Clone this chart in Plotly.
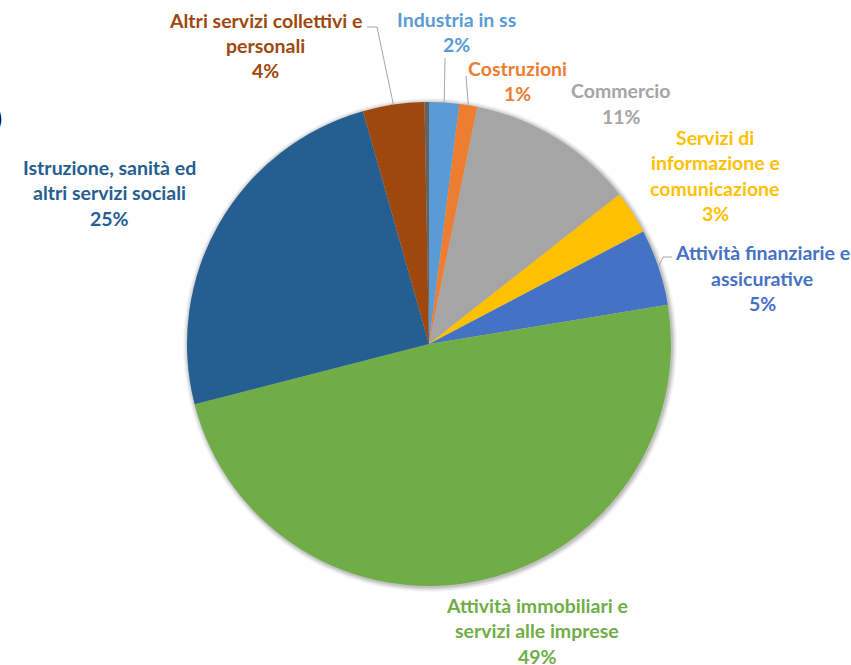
import math
import plotly.graph_objects as go

# Value added shares by sector (percent)
sectors = [
    "Industria in ss",
    "Costruzioni",
    "Commercio",
    "Servizi di informazione e comunicazione",
    "Attività finanziarie e assicurative",
    "Attività immobiliari e servizi alle imprese",
    "Istruzione, sanità ed altri servizi sociali",
    "Altri servizi collettivi e personali",
    "Agricoltura",
]
shares = [2.0, 1.2, 11.2, 2.9, 5.1, 48.6, 24.6, 4.1, 0.3]
colors = ["#5B9BD5", "#ED7D31", "#A5A5A5", "#FFC000", "#4472C4",
          "#70AD47", "#255E91", "#9E480E", "#636363"]

# Multi-line label text (name lines); percent line is added from the data
label_lines = [
    ["Industria in ss"],
    ["Costruzioni"],
    ["Commercio"],
    ["Servizi di", "informazione e", "comunicazione"],
    ["Attività finanziarie e", "assicurative"],
    ["Attività immobiliari e", "servizi alle imprese"],
    ["Istruzione, sanità ed", "altri servizi sociali"],
    ["Altri servizi collettivi e", "personali"],
    None,
]
# label block centre x and first-line y (pixels)
label_pos = [
    (457, 19), (517, 68), (621, 91), (715, 137), (762, 253),
    (537, 605), (110, 167), (265, 20), None,
]
# leader line: label-side anchor points (pixels), None when no leader
leaders = [
    [(445, 58)],
    [(466, 76)],
    None,
    None,
    [(672, 257), (663, 257)],
    None,
    None,
    [(367, 27), (377, 27)],
    None,
]

W, H = 851, 665
CX, CY, R = 429, 344, 242
LINE_H = 25.5
FONT = "Lato"
FONT_SIZE = 19.5


def px(x):
    return x / W


def py(y):
    return 1 - y / H


fig = go.Figure()
fig.add_trace(go.Pie(
    labels=sectors,
    values=shares,
    sort=False,
    direction="clockwise",
    rotation=0,
    marker=dict(colors=colors, line=dict(width=0)),
    textinfo="none",
    hoverinfo="label+percent",
    showlegend=False,
    domain=dict(x=[px(CX - R), px(CX + R)], y=[py(CY + R), py(CY - R)]),
))

total = sum(shares)
annotations = []
shapes = []

# soft shadow ring around the pie
for extra, alpha in [(5, 0.03), (4, 0.04), (3, 0.05), (2, 0.06), (1, 0.08)]:
    shapes.append(dict(
        type="circle", xref="paper", yref="paper", layer="below",
        x0=px(CX - R - extra + 1), x1=px(CX + R + extra + 1),
        y0=py(CY + R + extra + 1), y1=py(CY - R - extra + 1),
        fillcolor=f"rgba(0,0,0,{alpha})", line=dict(width=0),
    ))

cum = 0.0
for i, v in enumerate(shares):
    start = cum
    cum += v
    if label_lines[i] is None:
        continue
    pct = f"{round(v / total * 100):.0f}%"
    lines = label_lines[i] + [pct]
    lx, ly = label_pos[i]
    for k, t in enumerate(lines):
        annotations.append(dict(
            x=px(lx), y=py(ly + k * LINE_H), xref="paper", yref="paper",
            text=f"<b>{t}</b>", showarrow=False, xanchor="center", yanchor="middle",
            font=dict(family=FONT, size=FONT_SIZE, color=colors[i]),
        ))
    if leaders[i]:
        mid = (start + v / 2) / total * 2 * math.pi
        ex = CX + R * math.sin(mid)
        ey = CY - R * math.cos(mid)
        pts = leaders[i] + [(ex, ey)]
        path = "M " + " L ".join(f"{px(a)},{py(b)}" for a, b in pts)
        shapes.append(dict(type="path", xref="paper", yref="paper", path=path,
                           line=dict(color="#A6A6A6", width=1)))

# partial glyph at the left border
annotations.append(dict(
    x=px(-10), y=py(118), xref="paper", yref="paper", text=")", showarrow=False,
    xanchor="left", yanchor="middle", font=dict(family="DejaVu Sans", size=30, color="#000000"),
))

fig.update_layout(
    width=W, height=H,
    margin=dict(l=0, r=0, t=0, b=0),
    paper_bgcolor="#FFFFFF",
    plot_bgcolor="#FFFFFF",
    annotations=annotations,
    shapes=shapes,
)

fig.write_html("out.html")
